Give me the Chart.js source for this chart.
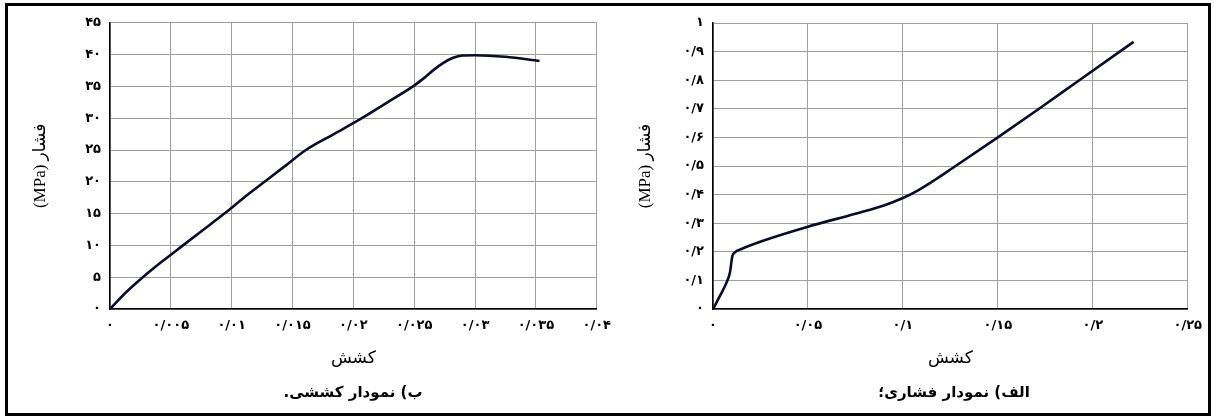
<!DOCTYPE html>
<html>
<head>
<meta charset="utf-8">
<script src="https://cdn.jsdelivr.net/npm/chart.js@4"></script>
<style>
  body { margin: 0; width: 1214px; height: 419px; background: #fff; position: relative; overflow: hidden; }
  #frame { position: absolute; left: 5px; top: 3px; width: 1206px; height: 413px; border: 3px solid #000; box-sizing: border-box; }
  canvas { position: absolute; }
  #c1 { left: 8px; top: 6px; }
  #c2 { left: 610px; top: 6px; }
  .cap { position: absolute; top: 383px; width: 300px; text-align: center; font: bold 15px "DejaVu Sans", serif; direction: rtl; }
</style>
</head>
<body>
<div id="frame"></div>
<canvas id="c1" width="612" height="408"></canvas>
<canvas id="c2" width="601" height="408"></canvas>
<div class="cap" style="left:203px">ب) نمودار کششی.</div>
<div class="cap" style="left:804px">الف) نمودار فشاری؛</div>
<script>
// tension (left) chart
const tensionStrain = [0, 0.0013, 0.0027, 0.0043, 0.006, 0.0077, 0.0094, 0.011, 0.0127, 0.0144, 0.0161, 0.0184, 0.0207, 0.0228, 0.0249, 0.0258, 0.0266, 0.0274, 0.0282, 0.029, 0.030, 0.0325, 0.0353];
const tensionStress = [0, 2.6, 5, 7.5, 10, 12.5, 15, 17.5, 20, 22.5, 25, 27.5, 30, 32.5, 35, 36.3, 37.6, 38.7, 39.5, 39.85, 39.9, 39.65, 39.0];
const tensionXTicks = [0, 0.005, 0.01, 0.015, 0.02, 0.025, 0.03, 0.035, 0.04];
const tensionXLabels = ['۰', '۰/۰۰۵', '۰/۰۱', '۰/۰۱۵', '۰/۰۲', '۰/۰۲۵', '۰/۰۳', '۰/۰۳۵', '۰/۰۴'];
const tensionYTicks = [0, 5, 10, 15, 20, 25, 30, 35, 40, 45];
const tensionYLabels = ['۰', '۵', '۱۰', '۱۵', '۲۰', '۲۵', '۳۰', '۳۵', '۴۰', '۴۵'];

// compression (right) chart
const compStrain = [0, 0.004, 0.0076, 0.009, 0.0095, 0.0102, 0.0115, 0.015, 0.026, 0.05, 0.075, 0.09, 0.1, 0.108, 0.117, 0.126, 0.15, 0.1717, 0.1929, 0.2215];
const compStress = [0, 0.05, 0.1, 0.13, 0.155, 0.185, 0.198, 0.21, 0.238, 0.288, 0.333, 0.362, 0.388, 0.415, 0.452, 0.492, 0.6, 0.7, 0.8, 0.934];
const compXTicks = [0, 0.05, 0.1, 0.15, 0.2, 0.25];
const compXLabels = ['۰', '۰/۰۵', '۰/۱', '۰/۱۵', '۰/۲', '۰/۲۵'];
const compYTicks = [0, 0.1, 0.2, 0.3, 0.4, 0.5, 0.6, 0.7, 0.8, 0.9, 1];
const compYLabels = ['۰', '۰/۱', '۰/۲', '۰/۳', '۰/۴', '۰/۵', '۰/۶', '۰/۷', '۰/۸', '۰/۹', '۱'];

const xTitle = 'کشش';
const yTitle = '(MPa) فشار';

const tickFont = { family: '"DejaVu Sans", serif', size: 13, weight: 'bold' };
const titleFont = { family: '"Liberation Serif", "DejaVu Sans", serif', size: 17 };

function makeChart(el, xs, ys, xTicks, xLabels, yTicks, yLabels, opt) {
  return new Chart(el, {
    type: 'line',
    data: {
      datasets: [{
        data: xs.map((x, i) => ({ x: x, y: ys[i] })),
        borderColor: '#0b0b2a',
        borderWidth: 2.6,
        pointRadius: 0,
        fill: false,
        cubicInterpolationMode: 'monotone'
      }]
    },
    options: {
      responsive: false,
      animation: false,
      layout: { padding: { left: 0, top: opt.top, right: opt.right, bottom: 0 } },
      plugins: { legend: { display: false }, tooltip: { enabled: false } },
      scales: {
        x: {
          type: 'linear',
          min: xTicks[0],
          max: xTicks[xTicks.length - 1],
          afterBuildTicks: s => { s.ticks = xTicks.map(v => ({ value: v })); },
          afterFit: s => { s.height = 105; },
          grid: { color: '#a0a0a0', lineWidth: 1, drawTicks: false },
          border: { color: '#000', width: 1.5 },
          ticks: {
            color: '#000', font: tickFont, padding: 9, maxRotation: 0, autoSkip: false,
            callback: (v, i) => xLabels[i]
          },
          title: { display: true, text: xTitle, color: '#000', font: titleFont, padding: { top: 0, bottom: 45 } }
        },
        y: {
          type: 'linear',
          min: yTicks[0],
          max: yTicks[yTicks.length - 1],
          afterBuildTicks: s => { s.ticks = yTicks.map(v => ({ value: v })); },
          afterFit: s => { s.width = opt.yWidth; },
          grid: { color: '#a0a0a0', lineWidth: 1, drawTicks: false },
          border: { color: '#000', width: 1.5 },
          ticks: {
            color: '#000', font: tickFont, padding: 9, autoSkip: false,
            callback: (v, i) => yLabels[i]
          },
          title: { display: true, text: yTitle, color: '#000', font: titleFont, padding: { top: opt.yTitlePad, bottom: 0 } }
        }
      }
    }
  });
}

makeChart(document.getElementById('c1'), tensionStrain, tensionStress, tensionXTicks, tensionXLabels, tensionYTicks, tensionYLabels,
  { top: 16, right: 23, yWidth: 102, yTitlePad: 22 });
makeChart(document.getElementById('c2'), compStrain, compStress, compXTicks, compXLabels, compYTicks, compYLabels,
  { top: 17, right: 16, yWidth: 103, yTitlePad: 25 });
</script>
</body>
</html>
